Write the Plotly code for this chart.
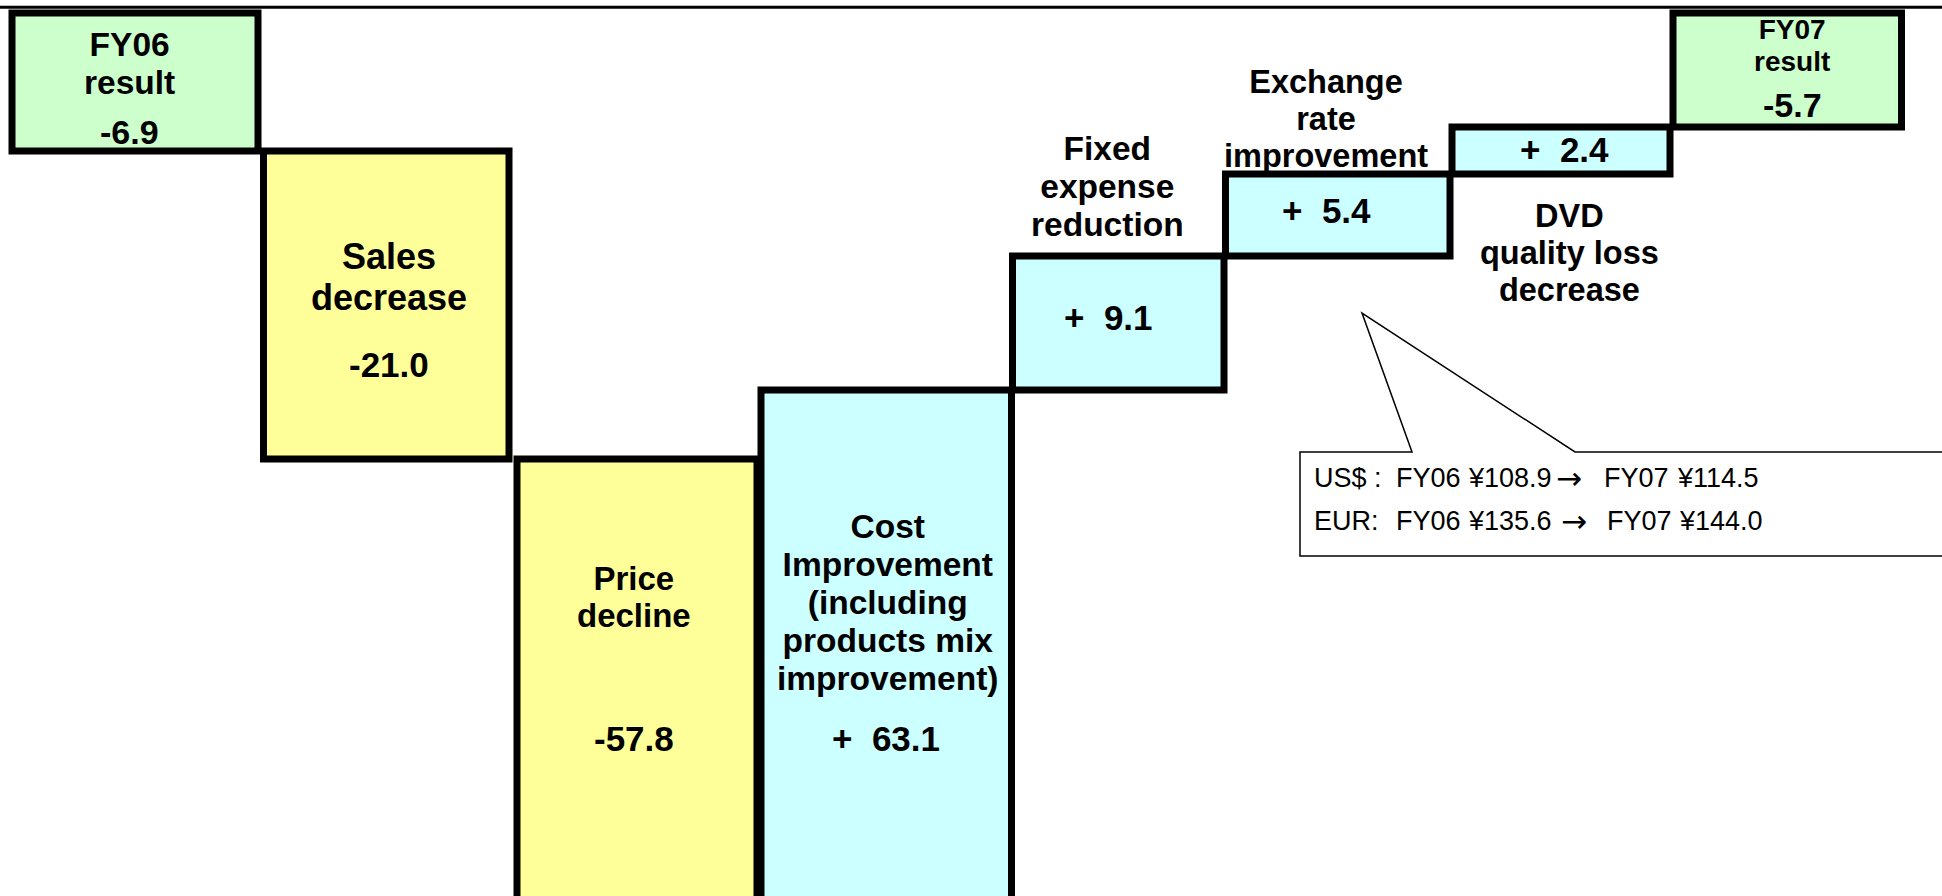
import plotly.graph_objects as go

# ---------------- data ----------------
categories = [
    "FY06<br>result",
    "Sales<br>decrease",
    "Price<br>decline",
    "Cost<br>Improvement<br>(including<br>products mix<br>improvement)",
    "Fixed<br>expense<br>reduction",
    "Exchange<br>rate<br>improvement",
    "DVD<br>quality loss<br>decrease",
    "FY07<br>result",
]
values = [-6.9, -21.0, -57.8, 63.1, 9.1, 5.4, 2.4, -5.7]
measures = ["total", "relative", "relative", "relative",
            "relative", "relative", "relative", "total"]
# bar heights as drawn on the (schematic, not-to-scale) slide, in drawing units
drawn_heights = [13.8, 30.8, 60.0, 66.9, 13.4, 8.2, 4.7, None]

fx_pairs = ["US$ :", "EUR:"]
fx_fy06 = [108.9, 135.6]
fx_fy07 = [114.5, 144.0]

# ---------------- style / layout ----------------
W, H = 1942, 896
PX_PER_UNIT = 10.0
Y_TOP = 1.3
X_START = 12
bar_widths = [246, 245.5, 240, 250.5, 211.5, 224.5, 218, 228.5]
bar_gaps = [0, 5.5, 8, 4, 1, 1.5, 2, 3]
COL_TOTAL, COL_NEG, COL_POS = "#CCFFCC", "#FFFF99", "#CCFFFF"
FONT = "Liberation Sans, Arial, sans-serif"

# label placement (pixel baselines, horizontal shifts from bar centre)
name_baselines = [[56, 94], [269.3, 310], [590, 627.2],
                  [538, 576, 614, 652, 690], [160, 198, 236],
                  [93, 130, 167], [227, 264, 301], [39, 71]]
name_size = [33.5, 36, 33, 33.5, 33.5, 32.5, 32.5, 28]
value_baselines = [144, 376.7, 751, 751, 329.3, 222.7, 162, 117]
value_size = [34, 35, 35, 35, 35, 35, 35, 34]
name_shift = [-6, 2.75, -3, 1.75, -11.25, -11.75, 8.5, 4.75]
value_shift = [-5.7, 2.5, -3, -0.25, -10.25, -11.75, 3, 5.5]
ASC = 0.3465  # (ascent - descent) / 2 for Liberation Sans


def py(p):
    """pixel row -> drawing units on the y axis"""
    return Y_TOP - p / PX_PER_UNIT


# ---------------- waterfall geometry ----------------
centers = []
pos = X_START
for w, g in zip(bar_widths, bar_gaps):
    pos += g
    centers.append(pos + w / 2)
    pos += w

bases, heights, colors = [], [], []
level = 0.0
for i, (v, m) in enumerate(zip(values, measures)):
    if m == "total":
        h = -drawn_heights[i] if drawn_heights[i] is not None else level
        bases.append(0.0)
        heights.append(h)
        level = h
        colors.append(COL_TOTAL)
    else:
        sgn = 1 if v > 0 else -1
        h = sgn * drawn_heights[i]
        bases.append(level)
        heights.append(h)
        level += h
        colors.append(COL_POS if v > 0 else COL_NEG)

fig = go.Figure()
fig.add_trace(go.Bar(
    x=centers, y=heights, base=bases, width=bar_widths,
    marker=dict(color=colors, line=dict(color="black", width=7)),
    hoverinfo="skip", showlegend=False,
))

annotations = []
for i, cat in enumerate(categories):
    lines = cat.split("<br>")
    bl = name_baselines[i]
    fs = name_size[i]
    step = (bl[-1] - bl[0]) / (len(bl) - 1)
    txt = "<br>".join(f"<span style='font-size:{fs}px'>{ln}</span>" for ln in lines)
    centre_px = (bl[0] + bl[-1]) / 2 - ASC * fs
    annotations.append(dict(
        x=centers[i], y=py(centre_px), xref="x", yref="y",
        xshift=name_shift[i], text=txt, showarrow=False,
        xanchor="center", yanchor="middle", align="center",
        borderpad=0, borderwidth=0,
        font=dict(family=FONT, size=step / 1.3, color="black", weight="bold"),
    ))
    v = values[i]
    vtxt = f"+\u00a0\u00a0{v:.1f}" if v > 0 else f"{v:.1f}"
    fs = value_size[i]
    annotations.append(dict(
        x=centers[i], y=py(value_baselines[i] - ASC * fs), xref="x", yref="y",
        xshift=value_shift[i], text=vtxt, showarrow=False,
        xanchor="center", yanchor="middle", borderpad=0, borderwidth=0,
        font=dict(family=FONT, size=fs, color="black", weight="bold"),
    ))

# exchange-rate callout text
fx_cols = [[1314, 1396, 1468, 1556, 1604, 1677],
           [1314, 1396, 1468, 1561, 1607, 1679]]
fx_baselines = [487, 530]
FX_SIZE = 27
for r in range(2):
    pieces = [fx_pairs[r], "FY06", f"¥{fx_fy06[r]:.1f}", "→", "FY07", f"¥{fx_fy07[r]:.1f}"]
    for txt, xp in zip(pieces, fx_cols[r]):
        is_arrow = txt == "→"
        annotations.append(dict(
            x=xp, y=py(fx_baselines[r] - ASC * FX_SIZE), xref="x", yref="y",
            text=txt, showarrow=False, xanchor="left", yanchor="middle",
            borderpad=0, borderwidth=0,
            font=dict(family="DejaVu Sans" if is_arrow else FONT,
                      size=31 if is_arrow else FX_SIZE, color="black"),
        ))

callout = [(1300, 452), (1412, 452), (1362, 313), (1575, 452),
           (1950, 452), (1950, 556), (1300, 556)]
path = "M " + " L ".join(f"{x},{py(p)}" for x, p in callout) + " Z"

shapes = [
    dict(type="path", path=path, xref="x", yref="y",
         line=dict(color="black", width=1.5), fillcolor="white", layer="above"),
    dict(type="line", xref="paper", yref="paper", x0=0, x1=1,
         y0=1 - 7.3 / H, y1=1 - 7.3 / H, line=dict(color="black", width=3)),
]

fig.update_layout(
    width=W, height=H,
    margin=dict(l=0, r=0, t=0, b=0),
    paper_bgcolor="white", plot_bgcolor="white",
    xaxis=dict(range=[0, W], visible=False, fixedrange=True),
    yaxis=dict(range=[Y_TOP - H / PX_PER_UNIT, Y_TOP], visible=False, fixedrange=True),
    annotations=annotations,
    shapes=shapes,
    showlegend=False,
)

fig.write_html(
    "out.html",
    config={"displayModeBar": False, "staticPlot": True},
    post_script="document.body.style.margin='0px';document.body.style.overflow='hidden';",
)
